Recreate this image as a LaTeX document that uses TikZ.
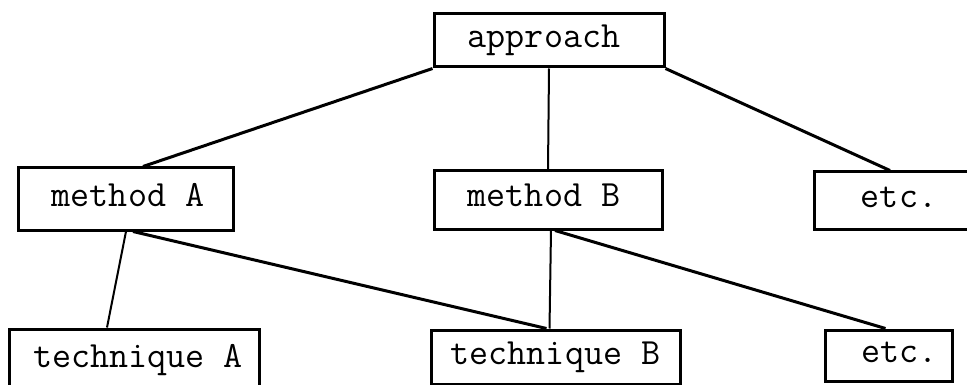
\documentclass[tikz,border=0pt]{standalone}
\usepackage{fontspec}
\begin{document}
\begin{tikzpicture}[x=1pt,y=-1pt,
  box/.style={draw=black, line width=3pt, rectangle, inner sep=1pt,
    font=\fontsize{37}{44}\selectfont\ttfamily,
    text height=14pt, text depth=0pt},
  conn/.style={draw=black, line width=3pt},
  thinconn/.style={draw=black, line width=2pt}]
\useasboundingbox (0,0) rectangle (967,385);
\fill[white] (0,0) rectangle (967,385);
% boxes
\node[box, minimum width=230pt, minimum height=53pt] (app) at (549,40.5) {approach\hspace*{10pt}};
\node[box, minimum width=215pt, minimum height=62pt] (mA) at (126,199) {\hspace*{4pt}method A};
\node[box, minimum width=228pt, minimum height=58pt] (mB) at (548,200) {method B\hspace*{8pt}};
\node[box, minimum width=158pt, minimum height=57pt] (e1) at (893,200.5) {\hspace*{12pt}etc.};
\node[box, minimum width=250pt, minimum height=63pt] (tA) at (134,360.5) {\hspace*{8pt}technique A};
\node[box, minimum width=249pt, minimum height=54pt] (tB) at (555.5,357) {technique B};
\node[box, minimum width=127pt, minimum height=51pt] (e2) at (888.5,355.5) {\hspace*{22pt}etc.};
% connectors
\draw[conn] (app.south west) -- ([xshift=17pt]mA.north);
\draw[thinconn] (app.south) -- (mB.north);
\draw[conn] (app.south east) -- ([xshift=-3pt]e1.north);
\draw[thinconn] (mA.south) -- ([xshift=-27pt]tA.north);
\draw[conn] ([xshift=7pt]mA.south) -- ([xshift=-9pt]tB.north);
\draw[thinconn] ([xshift=3pt]mB.south) -- ([xshift=-6pt]tB.north);
\draw[conn] ([xshift=7pt]mB.south) -- ([xshift=-3pt]e2.north);
\end{tikzpicture}
\end{document}
